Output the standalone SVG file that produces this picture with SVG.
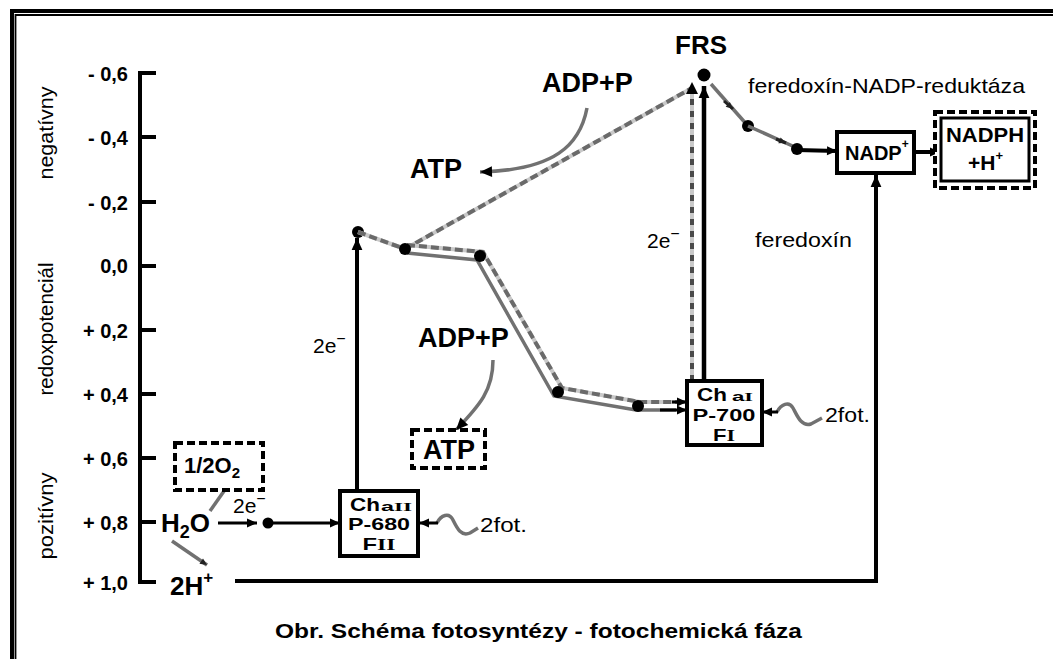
<svg xmlns="http://www.w3.org/2000/svg" width="1053" height="659" viewBox="0 0 1053 659">
<style>
.b{font-family:"Liberation Sans",Arial,sans-serif;font-weight:bold;fill:#000}
.n{font-family:"Liberation Sans",Arial,sans-serif;fill:#000}
.sr{font-family:"Liberation Serif","Times New Roman",serif;font-weight:bold}
.tick{font-size:20px;text-anchor:end}
.blk{stroke:#000;fill:none}
.gry{stroke:#717171;fill:none;stroke-width:3.5}
.lgt{stroke:#c9c9c9;fill:none;stroke-width:4}
.dsh{stroke:#6a6a6a;fill:none;stroke-width:4;stroke-dasharray:8 4}
.box{fill:#fff;stroke:#000;stroke-width:4}
.dbox{fill:#fff;stroke:#000;stroke-width:4;stroke-dasharray:8 4}
</style>
<defs>
<marker id="ah" viewBox="0 0 10 10" refX="10" refY="5" markerWidth="11" markerHeight="10" markerUnits="userSpaceOnUse" orient="auto"><path d="M0,0.5 L10,5 L0,9.5 z" fill="#000"/></marker>
<marker id="ahs" viewBox="0 0 10 10" refX="10" refY="5" markerWidth="8" markerHeight="7" markerUnits="userSpaceOnUse" orient="auto"><path d="M0,0.5 L10,5 L0,9.5 z" fill="#222"/></marker>
<marker id="ahl" viewBox="0 0 10 10" refX="10" refY="5" markerWidth="14" markerHeight="12" markerUnits="userSpaceOnUse" orient="auto"><path d="M0,0.5 L10,5 L0,9.5 z" fill="#000"/></marker>
</defs>
<rect width="1053" height="659" fill="#fff"/>
<g id="frame">
<path d="M10,11 H1053 M12,9 V659" stroke="#000" stroke-width="4" fill="none"/>
<path d="M15,15 H1053 M15.5,14 V659" stroke="#000" stroke-width="1.8" fill="none"/>
</g>
<g id="axis">
<path class="blk" stroke-width="4" d="M156,73 H140 V582 H156 M140,137 H156 M140,202 H156 M140,266 H156 M140,330 H156 M140,394 H156 M140,458 H156 M140,522 H156"/>
<text class="b tick" x="128" y="81">- 0,6</text>
<text class="b tick" x="128" y="145">- 0,4</text>
<text class="b tick" x="128" y="210">- 0,2</text>
<text class="b tick" x="128" y="273">0,0</text>
<text class="b tick" x="128" y="338">+ 0,2</text>
<text class="b tick" x="128" y="402">+ 0,4</text>
<text class="b tick" x="128" y="466">+ 0,6</text>
<text class="b tick" x="128" y="530">+ 0,8</text>
<text class="b tick" x="128" y="590">+ 1,0</text>
<text class="n" font-size="20" text-anchor="middle" transform="translate(53,133) rotate(-90)" textLength="93" lengthAdjust="spacingAndGlyphs">negatívny</text>
<text class="n" font-size="20" text-anchor="middle" transform="translate(53,329) rotate(-90)" textLength="133" lengthAdjust="spacingAndGlyphs">redoxpotenciál</text>
<text class="n" font-size="20" text-anchor="middle" transform="translate(53,516) rotate(-90)" textLength="87" lengthAdjust="spacingAndGlyphs">pozitívny</text>
</g>
<g id="connectors">
<path class="blk" stroke-width="4" d="M235,581 H876 V175" marker-end="url(#ahl)"/>
<path class="blk" stroke-width="3" d="M218,523 H257" marker-end="url(#ah)"/>
<circle cx="268" cy="523" r="5.5" fill="#000"/>
<path class="blk" stroke-width="3" d="M268,523 H340" marker-end="url(#ah)"/>
<path class="gry" stroke-width="4" d="M210,511 L229,484" marker-end="url(#ahs)"/>
<path class="gry" stroke-width="4" d="M172,541 L207,565" marker-end="url(#ahs)"/>
<path class="blk" stroke-width="4" d="M357,491 V238" marker-end="url(#ahl)"/>
<circle cx="358" cy="232" r="6" fill="#000"/>
<path class="lgt" d="M358,232 L405,249"/>
<path class="dsh" d="M358,232 L405,249"/>
<path class="lgt" d="M405,249 L692,88"/>
<path class="dsh" d="M405,249 L692,88"/>
<path class="lgt" d="M407,245 L483,252 L562,388 L640,402 L686,402"/>
<path class="dsh" d="M407,245 L483,252 L562,388 L640,402 L677,402"/>
<path class="blk" stroke-width="3" d="M672,402 L687,402" marker-end="url(#ah)"/>
<path class="gry" d="M407,253 L477,260 L554,396 L636,410 L676,410"/>
<path class="blk" stroke-width="3" d="M660,410 L687,410" marker-end="url(#ah)"/>
<circle cx="405" cy="249" r="6" fill="#000"/>
<circle cx="480" cy="256" r="6" fill="#000"/>
<circle cx="558" cy="392" r="6" fill="#000"/>
<circle cx="638" cy="406" r="6" fill="#000"/>
<path class="lgt" d="M692,381 V92"/>
<path stroke="#4a4a4a" stroke-width="4" fill="none" stroke-dasharray="6 6" d="M692,381 V92"/>
<path d="M686,94 L692,82 L698,94 z" fill="#000"/>
<path class="blk" stroke-width="4.5" d="M704,381 V86" marker-end="url(#ahl)"/>
<circle cx="704" cy="75" r="6.5" fill="#000"/>
<path class="gry" stroke-width="4" d="M711,84 L748,126"/>
<path d="M724,101 L733,109" stroke="#222" stroke-width="3" marker-end="url(#ahs)"/>
<circle cx="748" cy="126" r="6" fill="#000"/>
<path class="gry" stroke-width="4" d="M748,126 L797,148"/>
<path d="M776,139 L786,143" stroke="#222" stroke-width="3" marker-end="url(#ahs)"/>
<circle cx="797" cy="149" r="6" fill="#000"/>
<path class="blk" stroke-width="4" d="M797,150 L837,151" marker-end="url(#ah)"/>
<path class="blk" stroke-width="4" d="M914,152 H940" marker-end="url(#ah)"/>
<path class="gry" stroke-width="5" d="M587,108 C580,145 555,170 480,172" marker-end="url(#ahl)"/>
<path class="gry" stroke-width="5" d="M493,360 C493,390 480,405 456,430" marker-end="url(#ahl)"/>
<path class="gry" stroke-width="3" d="M437,523 C441,515 449,512 453,520 S461,537 470,533 L478,528"/>
<path class="blk" stroke-width="3" d="M438,523 H419" marker-end="url(#ah)"/>
<path class="gry" stroke-width="3" d="M777,412 C781,404 789,401 793,408 S801,427 811,424 L822,418"/>
<path class="blk" stroke-width="3" d="M778,412 H762" marker-end="url(#ah)"/>
</g>
<g id="psii">
<rect class="box" x="340" y="491" width="78" height="65"/>
<text class="b" font-size="18" x="350" y="511" textLength="30" lengthAdjust="spacingAndGlyphs">Ch</text>
<text class="b" font-size="13" x="381" y="511" textLength="31" lengthAdjust="spacingAndGlyphs">a<tspan class="sr">II</tspan></text>
<text class="b" font-size="17" x="379" y="530" text-anchor="middle" textLength="62" lengthAdjust="spacingAndGlyphs">P-680</text>
<text class="b" font-size="17" x="379" y="550" text-anchor="middle" textLength="33" lengthAdjust="spacingAndGlyphs">F<tspan class="sr">II</tspan></text>
</g>
<g id="psi">
<rect class="box" x="687" y="381" width="75" height="64"/>
<text class="b" font-size="18" x="697" y="401" textLength="30" lengthAdjust="spacingAndGlyphs">Ch</text>
<text class="b" font-size="13" x="732" y="401" textLength="21" lengthAdjust="spacingAndGlyphs">a<tspan class="sr">I</tspan></text>
<text class="b" font-size="17" x="724" y="421" text-anchor="middle" textLength="63" lengthAdjust="spacingAndGlyphs">P-700</text>
<text class="b" font-size="17" x="724" y="441" text-anchor="middle" textLength="22" lengthAdjust="spacingAndGlyphs">F<tspan class="sr">I</tspan></text>
</g>
<g id="nadp">
<rect class="box" x="837" y="132" width="77" height="41"/>
<text class="b" font-size="20" x="845" y="160">NADP<tspan font-size="12" dy="-12">+</tspan></text>
</g>
<g id="nadph">
<rect class="dbox" x="935" y="112" width="100" height="76"/>
<rect fill="#fff" stroke="#000" stroke-width="3" x="941" y="118" width="88" height="63"/>
<text class="b" font-size="21" x="985" y="142" text-anchor="middle" textLength="78" lengthAdjust="spacingAndGlyphs">NADPH</text>
<text class="b" font-size="21" x="968" y="170">+H<tspan font-size="13" dy="-10">+</tspan></text>
</g>
<g id="atp2">
<rect class="dbox" x="412" y="430" width="73" height="38"/>
<text class="b" font-size="27" x="449" y="459" text-anchor="middle">ATP</text>
</g>
<g id="o2">
<rect class="dbox" x="175" y="443" width="88" height="47"/>
<text class="b" font-size="22" x="184" y="473">1/2O<tspan font-size="15" dy="5">2</tspan></text>
</g>
<g id="h2o"><text class="b" font-size="26" x="161" y="532">H<tspan font-size="18" dy="6">2</tspan><tspan dy="-6">O</tspan></text></g>
<g id="h2"><text class="b" font-size="26" x="170" y="595">2H<tspan font-size="17" dy="-12">+</tspan></text></g>
<g id="frs"><text class="b" font-size="26" x="701" y="54" text-anchor="middle">FRS</text></g>
<g id="adp1"><text class="b" font-size="27" x="542" y="92">ADP+P</text></g>
<g id="atp1"><text class="b" font-size="27" x="410" y="178">ATP</text></g>
<g id="adp2"><text class="b" font-size="27" x="418" y="347">ADP+P</text></g>
<g id="labels">
<text class="n" font-size="21" x="748" y="93" textLength="277" lengthAdjust="spacingAndGlyphs">feredoxín-NADP-reduktáza</text>
<text class="n" font-size="21" x="755" y="247" textLength="97" lengthAdjust="spacingAndGlyphs">feredoxín</text>
<text class="n" font-size="21" x="313" y="353">2e<tspan font-size="16" dy="-9">−</tspan></text>
<text class="n" font-size="21" x="233" y="513">2e<tspan font-size="16" dy="-9">−</tspan></text>
<text class="n" font-size="21" x="647" y="248">2e<tspan font-size="16" dy="-9">−</tspan></text>
<text class="n" font-size="21" x="480" y="532" textLength="47" lengthAdjust="spacingAndGlyphs">2fot.</text>
<text class="n" font-size="21" x="825" y="422" textLength="45" lengthAdjust="spacingAndGlyphs">2fot.</text>
<text class="b" font-size="21" x="275" y="638" textLength="527" lengthAdjust="spacingAndGlyphs">Obr. Schéma fotosyntézy - fotochemická fáza</text>
</g>
</svg>
